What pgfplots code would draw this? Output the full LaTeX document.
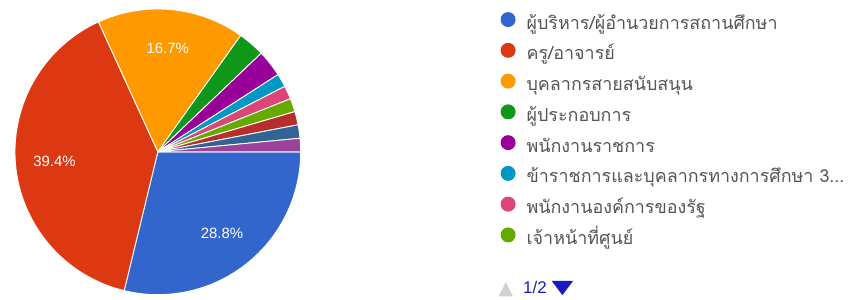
\documentclass[border=0pt]{standalone}
\usepackage{pgfplots}
\pgfplotsset{compat=1.18}
\usepackage{pgfplotstable}
\usepackage{graphicx}
\usepackage{fontspec}
\setmainfont{Liberation Sans}
\newfontfamily\thaifont[Script=Thai]{Loma}
\newfontfamily\symfont{DejaVu Sans}
\definecolor{c1}{HTML}{3366CC}
\definecolor{c2}{HTML}{DC3912}
\definecolor{c3}{HTML}{FF9900}
\definecolor{c4}{HTML}{109618}
\definecolor{c5}{HTML}{990099}
\definecolor{c6}{HTML}{0099C6}
\definecolor{c7}{HTML}{DD4477}
\definecolor{c8}{HTML}{66AA00}
\definecolor{c9}{HTML}{B82E2E}
\definecolor{c10}{HTML}{316395}
\definecolor{c11}{HTML}{994499}
\definecolor{legtext}{HTML}{555555}
\definecolor{pager}{HTML}{1A1AC0}

\pgfplotstableread{
val col
19 c1
26 c2
11 c3
2 c4
2 c5
1 c6
1 c7
1 c8
1 c9
1 c10
1 c11
}\piedata

\begin{document}
\begin{tikzpicture}
\pgfplotstablegetrowsof{\piedata}
\pgfmathtruncatemacro\nlast{\pgfplotsretval-1}
\gdef\pietotal{0}
\foreach \i in {0,...,\nlast}{
  \pgfplotstablegetelem{\i}{val}\of\piedata
  \pgfmathsetmacro\tmpT{\pietotal+\pgfplotsretval}
  \xdef\pietotal{\tmpT}
}
\gdef\piecum{0}
\foreach \i in {0,...,\nlast}{
  \pgfplotstablegetelem{\i}{val}\of\piedata
  \let\pv\pgfplotsretval
  \pgfplotstablegetelem{\i}{col}\of\piedata
  \expandafter\xdef\csname pcol\i\endcsname{\pgfplotsretval}
  \pgfmathsetmacro\sA{-\piecum/\pietotal*360}
  \pgfmathsetmacro\sB{-(\piecum+\pv)/\pietotal*360}
  \pgfmathsetmacro\sM{(\sA+\sB)/2}
  \pgfmathsetmacro\sP{\pv/\pietotal*100}
  \expandafter\xdef\csname pa\i\endcsname{\sA}
  \expandafter\xdef\csname pb\i\endcsname{\sB}
  \expandafter\xdef\csname pm\i\endcsname{\sM}
  \expandafter\xdef\csname pp\i\endcsname{\sP}
  \pgfmathsetmacro\sC{\piecum+\pv}
  \xdef\piecum{\sC}
}
\begin{axis}[
  x=1bp, y=1bp, xmin=0, xmax=851, ymin=0, ymax=300,
  hide axis, clip=false,
  legend cell align=left,
  legend image code/.code={\path[#1] (0bp,5bp) circle (7.5bp);},
  legend style={at={(axis cs:500,291)}, anchor=north west, draw=none, fill=none,
    inner sep=0pt, row sep=0pt, column sep=11bp,
    font=\thaifont\fontsize{18}{20}\selectfont, text=legtext,
    nodes={inner sep=0pt, text height=20bp, text depth=10.8bp}},
]
\path (axis cs:0,0) rectangle (axis cs:851,300);
\foreach \i in {0,...,\nlast}{
  \edef\doit{\noexpand\fill[\csname pcol\i\endcsname, draw=white, line width=0.9bp, line join=round]
    (axis cs:157,148) -- ++(\csname pa\i\endcsname:143bp)
    arc[start angle=\csname pa\i\endcsname, end angle=\csname pb\i\endcsname, radius=143bp] -- cycle;}
  \doit
}
\foreach \i in {0,...,\nlast}{
  \pgfmathparse{\csname pp\i\endcsname>5?1:0}
  \ifnum\pgfmathresult=1
    \edef\doit{\noexpand\node[text=white, font=\noexpand\fontsize{15}{17}\noexpand\selectfont, inner sep=0pt]
      at ([shift={(\csname pm\i\endcsname:104bp)}]axis cs:157,148)
      {\noexpand\pgfmathprintnumber[fixed,precision=1,fixed zerofill,assume math mode=true]{\csname pp\i\endcsname}\noexpand\%};}
    \doit
  \fi
}
\addlegendimage{fill=c1, draw=none}
\addlegendentry{ผู้บริหาร/ผู้อำนวยการสถานศึกษา}
\addlegendimage{fill=c2, draw=none}
\addlegendentry{ครู/อาจารย์}
\addlegendimage{fill=c3, draw=none}
\addlegendentry{บุคลากรสายสนับสนุน}
\addlegendimage{fill=c4, draw=none}
\addlegendentry{ผู้ประกอบการ}
\addlegendimage{fill=c5, draw=none}
\addlegendentry{พนักงานราชการ}
\addlegendimage{fill=c6, draw=none}
\addlegendentry{ข้าราชการและบุคลากรทางการศึกษา 3...}
\addlegendimage{fill=c7, draw=none}
\addlegendentry{พนักงานองค์การของรัฐ}
\addlegendimage{fill=c8, draw=none}
\addlegendentry{เจ้าหน้าที่ศูนย์}
\node[anchor=west, inner sep=0pt, font=\fontsize{17}{19}\selectfont] at (axis cs:498,10.5)
  {{\symfont\fontsize{19}{21}\selectfont\color{gray!35}\raisebox{-1bp}{▲}}\hspace{10bp}{\color{pager}1/2}\hspace{5bp}{\symfont\fontsize{19}{21}\selectfont\color{pager}\scalebox{1.5}[1]{▼}}};
\end{axis}
\end{tikzpicture}
\end{document}
